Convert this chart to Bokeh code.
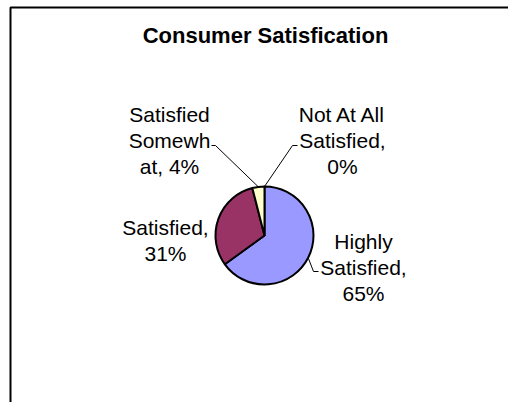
import math
from bokeh.plotting import figure
from bokeh.models import Range1d, ColumnDataSource
from bokeh.core.properties import value
from bokeh.embed import file_html
from bokeh.resources import INLINE

# ---- data ----
title_text = "Consumer Satisfication"
categories = ["Highly Satisfied", "Satisfied", "Satisfied Somewhat", "Not At All Satisfied"]
percents = [65, 31, 4, 0]
wrapped_names = ["Highly\nSatisfied,", "Satisfied,", "Satisfied\nSomewh\nat,", "Not At All\nSatisfied,"]
pct_separators = ["\n", "\n", " ", "\n"]
slice_colors = ["#9999FF", "#993366", "#FFFFCC", "#FFFFFF"]

# ---- layout (screenshot pixels) ----
W, H = 508, 402
PX0, PY0 = 0, 0
CX, CY = 264, 235
R = 49

def dx(px):
    return px - CX

def dy(py):
    return CY - py

label_pos = [(363, 267), (165, 240), (169, 140), (342, 140)]
leader_elbows = [[(313, 271), (318, 271)], None, [(215, 145), (211, 145)], [(292, 145), (297, 145)]]

p = figure(width=W, height=H,
           x_range=Range1d(dx(PX0), dx(PX0 + W)),
           y_range=Range1d(dy(PY0 + H), dy(PY0)),
           output_backend="svg", toolbar_location=None,
           x_axis_type=None, y_axis_type=None,
           min_border=0, outline_line_color=None,
           background_fill_color="white", border_fill_color="white")
p.grid.visible = False

# chart-area frame: only its left and top edges fall inside the window
p.quad(left=[dx(10)], top=[dy(7)], right=[dx(10) + 3000], bottom=[dy(7) - 3000],
       fill_color=None, line_color="black", line_width=2)

# wedges
total = float(sum(percents))
cum = 0.0
starts, ends, cols, mids = [], [], [], []
for pct, col in zip(percents, slice_colors):
    c0 = cum / total
    cum += pct
    c1 = cum / total
    mids.append((c0 + c1) / 2.0)
    if pct > 0:
        starts.append(math.pi / 2 - 2 * math.pi * c1)
        ends.append(math.pi / 2 - 2 * math.pi * c0)
        cols.append(col)

wsrc = ColumnDataSource(dict(x=[0] * len(starts), y=[0] * len(starts),
                             start=starts, end=ends, color=cols))
p.wedge(x="x", y="y", radius=R, start_angle="start", end_angle="end",
        fill_color="color", line_color="black", line_width=2, source=wsrc)

# leader lines
lxs, lys = [], []
for m, el in zip(mids, leader_elbows):
    if el is None:
        continue
    th = 2 * math.pi * m
    sx, sy = R * math.sin(th), R * math.cos(th)
    xs = [sx] + [dx(a) for a, b in el]
    ys = [sy] + [dy(b) for a, b in el]
    lxs.append(xs)
    lys.append(ys)
p.multi_line(xs=lxs, ys=lys, line_color="black", line_width=1)

# labels
labels = [n + s + f"{v}%" for n, s, v in zip(wrapped_names, pct_separators, percents)]
lsrc = ColumnDataSource(dict(x=[dx(a) for a, b in label_pos], y=[dy(b) for a, b in label_pos], t=labels))
p.text(x="x", y="y", text="t", source=lsrc, text_font=value("Liberation Sans"),
       text_font_size="21px", text_align="center", text_baseline="middle",
       text_line_height=1.15, text_color="black")

# title
p.text(x=[dx(265)], y=[dy(35)], text=[title_text], text_font=value("Liberation Sans"),
       text_font_size="22px", text_font_style="bold", text_align="center",
       text_baseline="middle", text_color="black")

open("out.html", "w").write(file_html(p, INLINE))
